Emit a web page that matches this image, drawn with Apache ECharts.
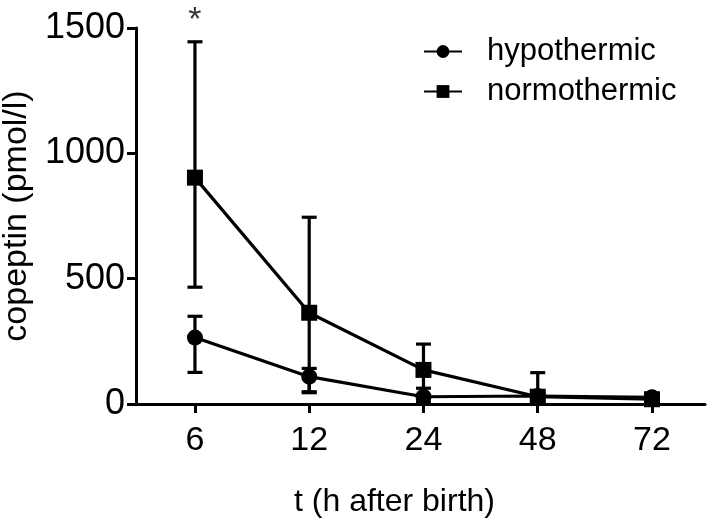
<!DOCTYPE html>
<html><head><meta charset="utf-8">
<script src="https://cdn.jsdelivr.net/npm/echarts@6/dist/echarts.min.js"></script>
<style>html,body{margin:0;padding:0;background:#fff}#c{width:714px;height:528px}</style>
</head><body><div id="c"></div>
<script>
const categories = ['6', '12', '24', '48', '72'];
const yTicks = [0, 500, 1000, 1500];
const hypoMean = [265, 109, 29, 32, 27];
const hypoLow = [126, 49, 8, 15, 15];
const hypoHigh = [350, 142, 63, 45, 40];
const normoMean = [903, 364, 136, 29, 19];
const normoLow = [466, 45, 30, 5, 5];
const normoHigh = [1445, 745, 239, 125, 40];
const annotations = [{cat: '6', value: 1445, text: '*'}];

const FONT = 'Liberation Sans, Arial, sans-serif';
const idx = categories.map((c, i) => i);
function errSeries(low, high) {
  return {
    type: 'custom', silent: true, z: 1,
    data: idx.map(i => [i, low[i], high[i]]),
    renderItem: function (params, api) {
      const lo = api.coord([api.value(0), api.value(1)]);
      const hi = api.coord([api.value(0), api.value(2)]);
      const w = 7.5;
      const st = {stroke: '#000', lineWidth: 3.2};
      return {type: 'group', children: [
        {type: 'line', shape: {x1: lo[0], y1: lo[1], x2: hi[0], y2: hi[1]}, style: st},
        {type: 'line', shape: {x1: hi[0] - w, y1: hi[1], x2: hi[0] + w, y2: hi[1]}, style: st},
        {type: 'line', shape: {x1: lo[0] - w, y1: lo[1], x2: lo[0] + w, y2: lo[1]}, style: st}
      ]};
    }
  };
}
const chart = echarts.init(document.getElementById('c'), null, {renderer: 'canvas'});
chart.setOption({
  backgroundColor: '#fff',
  animation: false,
  grid: {left: 136, right: 9, top: 28, bottom: 124, containLabel: false, outerBoundsMode: 'none'},
  legend: {
    orient: 'vertical', left: 423, top: 36, padding: 0, itemGap: 9, itemWidth: 38, itemHeight: 16,
    textStyle: {fontFamily: FONT, fontSize: 31, color: '#000', padding: [0, 0, 0, 20]},
    data: ['hypothermic', 'normothermic']
  },
  xAxis: {
    type: 'value', min: -0.516, max: 4.464,
    name: 't (h after birth)', nameLocation: 'middle', nameGap: 82,
    nameTextStyle: {fontFamily: FONT, fontSize: 32, color: '#000', padding: [0, 52, 0, 0]},
    axisLine: {onZero: false, lineStyle: {color: '#000', width: 3}},
    axisTick: {show: true, customValues: idx, length: 9, lineStyle: {color: '#000', width: 3}},
    axisLabel: {customValues: idx, fontFamily: FONT, fontSize: 34, color: '#000', margin: 20,
      formatter: v => categories[Math.round(v)]},
    splitLine: {show: false}
  },
  yAxis: {
    type: 'value', min: 0, max: 1500, interval: 500,
    name: 'copeptin (pmol/l)', nameLocation: 'middle', nameGap: 88, nameRotate: 90,
    nameTextStyle: {fontFamily: FONT, fontSize: 34, color: '#000'},
    axisLine: {show: true, onZero: false, lineStyle: {color: '#000', width: 3}},
    axisTick: {show: true, length: 9, lineStyle: {color: '#000', width: 3}},
    axisLabel: {fontFamily: FONT, fontSize: 36, color: '#000', margin: 11,
      formatter: v => yTicks.includes(v) ? String(v) : ''},
    splitLine: {show: false}
  },
  series: [
    errSeries(hypoLow, hypoHigh),
    errSeries(normoLow, normoHigh),
    {name: 'hypothermic', type: 'line', data: idx.map(i => [i, hypoMean[i]]), symbol: 'circle', symbolSize: 16, z: 3,
      lineStyle: {color: '#000', width: 3.2}, itemStyle: {color: '#000'}},
    {name: 'normothermic', type: 'line', data: idx.map(i => [i, normoMean[i]]), symbol: 'rect', symbolSize: 16, z: 3,
      lineStyle: {color: '#000', width: 3.2}, itemStyle: {color: '#000'}},
    {type: 'scatter', silent: true, symbol: 'circle', symbolSize: 1, z: 4,
      itemStyle: {color: 'rgba(0,0,0,0)'},
      data: annotations.map(a => ({value: [categories.indexOf(a.cat), a.value], label: {show: true, formatter: a.text}})),
      label: {show: true, position: 'top', distance: 4, fontFamily: FONT, fontSize: 34, color: '#000'}}
  ]
});
</script></body></html>
